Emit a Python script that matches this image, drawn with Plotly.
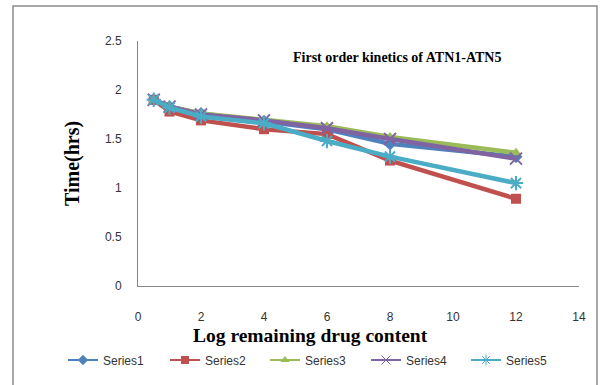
import plotly.graph_objects as go

x_vals = [0.5, 1, 2, 4, 6, 8, 12]
series_names = ["Series1", "Series2", "Series3", "Series4", "Series5"]
s1 = [1.9, 1.83, 1.76, 1.68, 1.60, 1.45, 1.32]
s2 = [1.9, 1.78, 1.69, 1.60, 1.55, 1.28, 0.89]
s3 = [1.9, 1.83, 1.76, 1.69, 1.63, 1.52, 1.36]
s4 = [1.9, 1.83, 1.75, 1.69, 1.61, 1.50, 1.30]
s5 = [1.9, 1.82, 1.73, 1.66, 1.48, 1.32, 1.05]
series_vals = [s1, s2, s3, s4, s5]
colors = ["#4F81BD", "#C0504D", "#9BBB59", "#8064A2", "#4BACC6"]
symbols = ["diamond", "square", "triangle-up", "x-thin", "asterisk"]

W, H = 600, 385
L, R, T, B = 138, 21, 41, 99
pw, ph = W - L - R, H - T - B

def px(x):
    return (x - L) / pw

def py(y):
    return (H - B - y) / ph

legend_left_px = [65, 167, 267, 368, 468]
legend_keys = ["legend", "legend2", "legend3", "legend4", "legend5"]

fig = go.Figure()
for name, vals, c, sym in zip(series_names, series_vals, colors, symbols):
    thin = sym in ("x-thin", "asterisk")
    fig.add_trace(go.Scatter(
        x=x_vals, y=vals, name=name, mode="lines+markers", showlegend=False,
        line=dict(color=c, width=4.5),
        marker=dict(symbol=sym, size=10 if not thin else 12, color=c,
                    line=dict(color=c, width=2 if thin else 0)),
    ))
# legend entries (thin lines, small markers as in the reference legend)
for name, c, sym, key in zip(series_names, colors, symbols, legend_keys):
    thin = sym in ("x-thin", "asterisk")
    fig.add_trace(go.Scatter(
        x=[None], y=[None], name=name, mode="lines+markers", legend=key,
        line=dict(color=c, width=2),
        marker=dict(symbol=sym, size=8 if not thin else 9, color=c,
                    line=dict(color=c, width=1 if thin else 0)),
    ))

layout_legends = {}
for key, lx in zip(legend_keys, legend_left_px):
    layout_legends[key] = dict(
        orientation="h", xref="container", yref="container",
        x=(lx - 2) / W, y=1 - 360 / H, xanchor="left", yanchor="middle",
        font=dict(family="Liberation Sans", size=12, color="#333"),
        itemwidth=30, bgcolor="rgba(0,0,0,0)")

fig.update_layout(
    width=W, height=H,
    margin=dict(l=L, r=R, t=T, b=B, autoexpand=False),
    paper_bgcolor="white", plot_bgcolor="white",
    showlegend=True,
    **layout_legends,
    xaxis=dict(range=[0, 14], dtick=2, showgrid=False, zeroline=False,
               showline=True, linecolor="#868686", linewidth=1,
               ticks="", ticklabelstandoff=20,
               tickfont=dict(family="Liberation Sans", size=12, color="#333")),
    yaxis=dict(range=[0, 2.5], dtick=0.5, showgrid=False, zeroline=False,
               showline=True, linecolor="#868686", linewidth=1,
               ticks="", ticklabelstandoff=13,
               tickfont=dict(family="Liberation Sans", size=12, color="#333")),
    annotations=[
        dict(text="<b>First order kinetics of ATN1-ATN5</b>", xref="paper", yref="paper",
             x=px(397), y=py(57), xanchor="center", yanchor="middle", showarrow=False,
             font=dict(family="Liberation Serif", size=14, color="black")),
        dict(text="<b>Time(hrs)</b>", xref="paper", yref="paper", textangle=-90,
             x=px(72), y=py(164), xanchor="center", yanchor="middle", showarrow=False,
             font=dict(family="Liberation Serif", size=20, color="black")),
        dict(text="<b>Log remaining drug content</b>", xref="paper", yref="paper",
             x=px(310), y=py(335), xanchor="center", yanchor="middle", showarrow=False,
             font=dict(family="Liberation Serif", size=19.5, color="black")),
    ],
    shapes=[
        dict(type="rect", xref="paper", yref="paper",
             x0=px(13), x1=px(597), y0=py(392), y1=py(6),
             line=dict(color="#8c8c8c", width=1.5), fillcolor="rgba(0,0,0,0)", layer="below"),
    ],
)

fig.write_html("out.html")
